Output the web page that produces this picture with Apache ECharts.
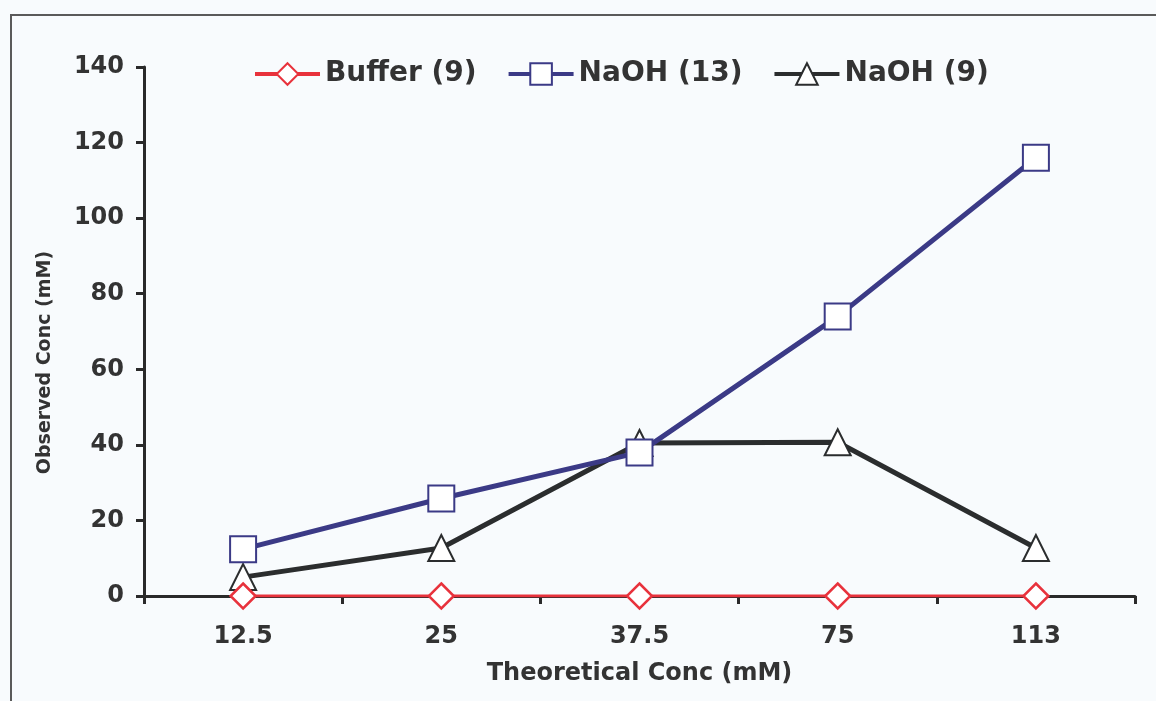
<!DOCTYPE html>
<html>
    <head>
        <meta charset="utf-8">
        <style>
            body { margin: 0; background: #f8fbfd; }
        </style>
    </head>
    <body>
        <div id="main" style="width: 1156px; height: 701px"></div>

        <script type="text/javascript" src="https://cdn.jsdelivr.net/npm/echarts@6/dist/echarts.min.js"></script>
        <script type="text/javascript">

            const categories = ['12.5', '25', '37.5', '75', '113'];
            const buffer9 = [0, 0, 0, 0, 0];
            const naoh13 = [12.4, 25.8, 38, 74, 116];
            const naoh9 = [5, 12.7, 40.5, 40.7, 12.7];

            var chartDom = document.getElementById('main');
            var myChart = echarts.init(chartDom);
            var option;

            const font = '"DejaVu Sans", Verdana, sans-serif';
            const ink = '#333333';
            const red = '#e8323c';
            const navy = '#3b3a86';
            const dark = '#2b2d2e';

            option = {
                backgroundColor: '#f8fbfd',
                textStyle: { fontFamily: font },
                graphic: [{
                    type: 'polyline',
                    silent: true,
                    shape: { points: [[11, 701], [11, 15], [1156, 15]] },
                    style: { stroke: '#5a5a5a', lineWidth: 2, fill: null }
                }],
                grid: { left: 144, top: 67, right: 21, bottom: 105 },
                legend: {
                    left: 248,
                    top: 55,
                    itemWidth: 65,
                    itemHeight: 27,
                    itemGap: 30,
                    textStyle: { fontFamily: font, fontWeight: 'bold', fontSize: 28, color: ink },
                    data: [
                        { name: 'Buffer (9)', lineStyle: { width: 4 } },
                        { name: 'NaOH (13)', lineStyle: { width: 4 } },
                        { name: 'NaOH (9)', lineStyle: { width: 4 } }
                    ]
                },
                xAxis: {
                    type: 'category',
                    data: categories,
                    boundaryGap: true,
                    name: 'Theoretical Conc (mM)',
                    nameLocation: 'middle',
                    nameGap: 66,
                    nameTextStyle: { fontFamily: font, fontWeight: 'bold', fontSize: 24, color: ink },
                    axisLine: { onZero: false, lineStyle: { color: '#2a2a2a', width: 3 } },
                    axisTick: { show: true, length: 8, lineStyle: { color: '#2a2a2a', width: 3 } },
                    axisLabel: { margin: 29, fontFamily: font, fontWeight: 'bold', fontSize: 24, color: ink },
                    splitLine: { show: false }
                },
                yAxis: {
                    type: 'value',
                    min: 0,
                    max: 140,
                    interval: 20,
                    name: 'Observed Conc (mM)',
                    nameLocation: 'middle',
                    nameGap: 89,
                    nameRotate: 90,
                    // title sits a little below the axis middle in the original
                    nameTextStyle: { fontFamily: font, fontWeight: 'bold', fontSize: 19, color: ink, padding: [0, 62, 0, 0] },
                    axisLine: { show: true, lineStyle: { color: '#2a2a2a', width: 3 } },
                    axisTick: { show: true, length: 8, lineStyle: { color: '#2a2a2a', width: 3 } },
                    axisLabel: { margin: 20, fontFamily: font, fontWeight: 'bold', fontSize: 24, color: ink },
                    splitLine: { show: false }
                },
                series: [
                    {
                        name: 'NaOH (9)',
                        type: 'line',
                        data: naoh9,
                        symbol: 'triangle',
                        symbolSize: 26,
                        z: 3,
                        lineStyle: { color: dark, width: 5 },
                        itemStyle: { color: '#ffffff', borderColor: dark, borderWidth: 2 }
                    },
                    {
                        name: 'NaOH (13)',
                        type: 'line',
                        data: naoh13,
                        symbol: 'rect',
                        symbolSize: 26,
                        z: 4,
                        lineStyle: { color: navy, width: 5 },
                        itemStyle: { color: '#ffffff', borderColor: navy, borderWidth: 2 }
                    },
                    {
                        name: 'Buffer (9)',
                        type: 'line',
                        data: buffer9,
                        symbol: 'diamond',
                        symbolSize: 25,
                        z: 5,
                        lineStyle: { color: red, width: 3 },
                        itemStyle: { color: '#ffffff', borderColor: red, borderWidth: 2.5 }
                    }
                ]
            };

            option && myChart.setOption(option);

        </script>
    </body>
</html>
